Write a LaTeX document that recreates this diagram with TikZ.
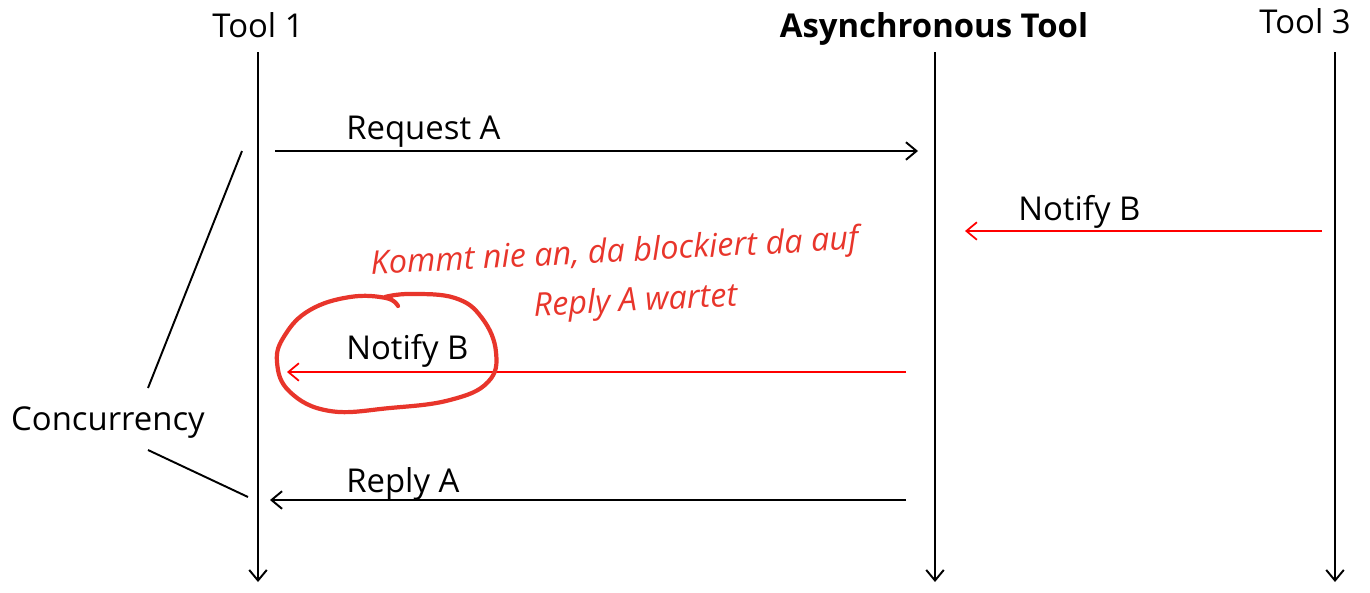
\documentclass[tikz,border=0pt]{standalone}
\usepackage{fontspec}
\setmainfont{Open Sans}
\usetikzlibrary{arrows.meta, calc, positioning}

\definecolor{handred}{HTML}{E8352B}

\begin{document}
\begin{tikzpicture}[x=0.02cm, y=-0.02cm, >={Straight Barb[length=6pt, width=10pt]},
    lbl/.style={font=\fontsize{18.7}{22}\selectfont, inner sep=0pt},
    life/.style={->, line width=1.1pt},
    msg/.style={->, line width=1.1pt},
    notify/.style={->, line width=1pt, red},
    hand/.style={font=\fontsize{18.5}{22}\selectfont\itshape, text=handred, inner sep=0pt, rotate=3}]
    \useasboundingbox (0,0) rectangle (1370,592);

    % lifelines
    \node[lbl, anchor=base] (tool1) at (258,37) {Tool 1};
    \node[lbl, anchor=base, font=\fontsize{18.7}{22}\selectfont\bfseries] (async) at (934,37) {Asynchronous Tool};
    \node[lbl, anchor=base] (tool3) at (1305,33) {Tool 3};
    \coordinate (t1top) at (258,52);   \coordinate (t1end) at (258,582);
    \coordinate (astop) at (935,52);   \coordinate (asend) at (935,582);
    \coordinate (t3top) at (1335,52);  \coordinate (t3end) at (1335,582);
    \draw[life] (t1top) -- (t1end);
    \draw[life] (astop) -- (asend);
    \draw[life] (t3top) -- (t3end);

    % messages
    \coordinate (reqA1) at (275,151);  \coordinate (reqA2) at (918,151);
    \coordinate (notB1) at (1322,231); \coordinate (notB2) at (965,231);
    \coordinate (notC1) at (906,372);  \coordinate (notC2) at (287,372);
    \coordinate (repA1) at (906,500);  \coordinate (repA2) at (270,500);
    \draw[msg] (reqA1) -- (reqA2);
    \node[lbl, anchor=base west] (reqAlbl) at (346,139) {Request A};
    \draw[notify] (notB1) -- (notB2);
    \node[lbl, anchor=base west] (notBlbl) at (1018,220) {Notify B};
    \draw[notify] (notC1) -- (notC2);
    \node[lbl, anchor=base west] (notClbl) at (346,359) {Notify B};
    \draw[msg] (repA1) -- (repA2);
    \node[lbl, anchor=base west] (repAlbl) at (346,492) {Reply A};

    % concurrency bracket
    \node[lbl, anchor=base] (conc) at (108,430) {Concurrency};
    \coordinate (c1a) at (242,151); \coordinate (c1b) at (148,388);
    \coordinate (c2a) at (148,450); \coordinate (c2b) at (248,497);
    \draw[line width=1.1pt] (c1a) -- (c1b);
    \draw[line width=1.1pt] (c2a) -- (c2b);

    % red scribble
    \draw[handred, line width=2.4pt, line cap=round, line join=round]
        plot[smooth, tension=0.7] coordinates {(398,306) (386,298) (350,297) (310,310)
        (285,335) (277,362) (290,392) (330,411) (390,408) (450,400) (488,382) (496,352)
        (482,318) (455,298) (410,294) (385,297)};
    \node[hand, anchor=base] (note1) at (615,262) {Kommt nie an, da blockiert da auf};
    \node[hand, anchor=base] (note2) at (636,311) {Reply A wartet};
\end{tikzpicture}
\end{document}
